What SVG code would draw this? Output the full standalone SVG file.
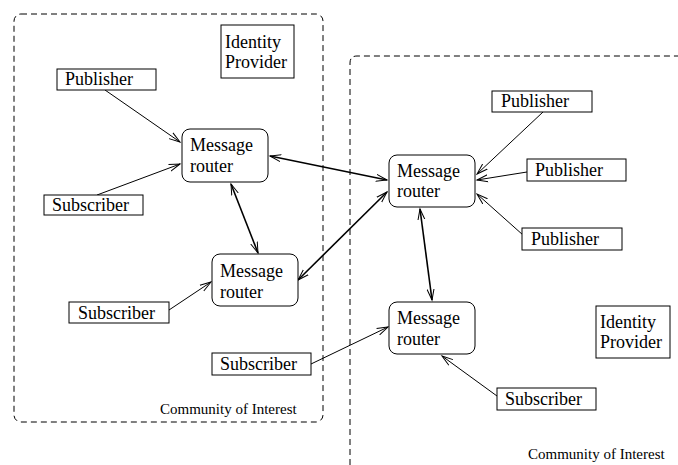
<svg xmlns="http://www.w3.org/2000/svg" width="678" height="465" viewBox="0 0 678 465">
<style>
.box{fill:#fff;stroke:#000;stroke-width:1}
.t{font-family:"Liberation Serif","Times New Roman",serif;font-size:18px;fill:#000}
.s{font-family:"Liberation Serif","Times New Roman",serif;font-size:15px;fill:#000}
.coi{fill:none;stroke:#000;stroke-width:1;stroke-dasharray:6,4}
.c{fill:none;stroke:#000;stroke-width:1}
.cb{fill:none;stroke:#000;stroke-width:1.6}
</style>
<defs>
<marker id="ah" markerUnits="userSpaceOnUse" markerWidth="14" markerHeight="10" refX="11" refY="4" orient="auto-start-reverse" viewBox="0 0 14 8">
<path d="M0,0.5 L11,4 L0,7.5" fill="none" stroke="#000" stroke-width="1"/>
</marker>
</defs>
<rect width="678" height="465" fill="#fff"/>
<g id="coi-left">
<rect class="coi" x="14" y="14" width="309" height="408" rx="7"/>
<text class="s" x="160" y="414">Community of Interest</text>
</g>
<g id="coi-right">
<path class="coi" d="M350,465 L350,63 Q350,56 357,56 L678,56"/>
<text class="s" x="528" y="459">Community of Interest</text>
</g>
<g id="connectors">
<line class="c" x1="105" y1="90" x2="180" y2="142" marker-end="url(#ah)"/>
<line class="c" x1="97" y1="195" x2="180" y2="164" marker-end="url(#ah)"/>
<line class="cb" x1="270" y1="156" x2="387" y2="180" marker-start="url(#ah)" marker-end="url(#ah)"/>
<line class="cb" x1="231" y1="184" x2="258" y2="253" marker-start="url(#ah)" marker-end="url(#ah)"/>
<line class="cb" x1="298" y1="280" x2="387" y2="192" marker-start="url(#ah)" marker-end="url(#ah)"/>
<line class="c" x1="169" y1="310" x2="211" y2="282" marker-end="url(#ah)"/>
<line class="c" x1="311" y1="364" x2="388" y2="327" marker-end="url(#ah)"/>
<line class="cb" x1="420" y1="209" x2="432" y2="300" marker-start="url(#ah)" marker-end="url(#ah)"/>
<line class="c" x1="543" y1="112" x2="477" y2="174" marker-end="url(#ah)"/>
<line class="c" x1="527" y1="172" x2="477" y2="180" marker-end="url(#ah)"/>
<line class="c" x1="523" y1="235" x2="477" y2="194" marker-end="url(#ah)"/>
<line class="c" x1="497" y1="396" x2="442" y2="356" marker-end="url(#ah)"/>
</g>
<g id="idp-left">
<rect class="box" x="221" y="25" width="73" height="53"/>
<text class="t" x="225" y="48">Identity</text>
<text class="t" x="225" y="68">Provider</text>
</g>
<g id="pub-left">
<rect class="box" x="57" y="69" width="99" height="21"/>
<text class="t" x="65" y="85">Publisher</text>
</g>
<g id="router1">
<rect class="box" x="182" y="129" width="86" height="53" rx="8"/>
<text class="t" x="190" y="151">Message</text>
<text class="t" x="190" y="172">router</text>
</g>
<g id="sub1">
<rect class="box" x="44" y="195" width="99" height="20"/>
<text class="t" x="52" y="211">Subscriber</text>
</g>
<g id="router2">
<rect class="box" x="212" y="254" width="86" height="52" rx="8"/>
<text class="t" x="220" y="277">Message</text>
<text class="t" x="220" y="298">router</text>
</g>
<g id="sub2">
<rect class="box" x="69" y="302" width="100" height="21"/>
<text class="t" x="78" y="319">Subscriber</text>
</g>
<g id="sub3">
<rect class="box" x="212" y="353" width="99" height="22"/>
<text class="t" x="220" y="370">Subscriber</text>
</g>
<g id="pub-top">
<rect class="box" x="492" y="91" width="100" height="21"/>
<text class="t" x="501" y="107">Publisher</text>
</g>
<g id="router3">
<rect class="box" x="389" y="155" width="86" height="52" rx="8"/>
<text class="t" x="397" y="177">Message</text>
<text class="t" x="397" y="197">router</text>
</g>
<g id="pub-mid">
<rect class="box" x="527" y="159" width="99" height="22"/>
<text class="t" x="535" y="176">Publisher</text>
</g>
<g id="pub-bottom">
<rect class="box" x="522" y="228" width="100" height="22"/>
<text class="t" x="531" y="245">Publisher</text>
</g>
<g id="router4">
<rect class="box" x="389" y="302" width="86" height="52" rx="8"/>
<text class="t" x="397" y="324">Message</text>
<text class="t" x="397" y="345">router</text>
</g>
<g id="idp-right">
<rect class="box" x="596" y="306" width="74" height="52"/>
<text class="t" x="600" y="328">Identity</text>
<text class="t" x="600" y="348">Provider</text>
</g>
<g id="sub4">
<rect class="box" x="497" y="388" width="99" height="22"/>
<text class="t" x="505" y="405">Subscriber</text>
</g>
</svg>
